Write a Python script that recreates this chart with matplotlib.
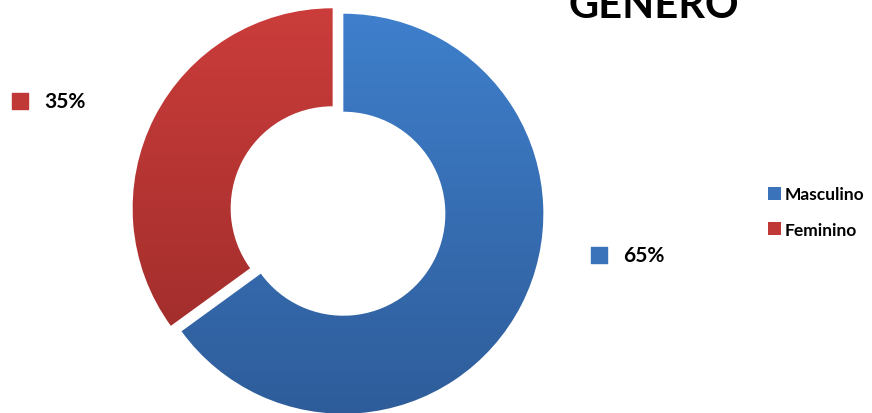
import matplotlib.pyplot as plt
import numpy as np
from matplotlib.colors import to_rgb
from matplotlib.patches import Patch

# data
categories = ["Masculino", "Feminino"]
values = [65, 35]
top_colors = ["#3f80cd", "#cb3d3b"]
bottom_colors = ["#2e5c99", "#982a28"]
solid_colors = ["#3a73b9", "#c03936"]

W, H = 872, 414
plt.rcParams["font.family"] = ["Lato", "DejaVu Sans"]

fig = plt.figure(figsize=(W / 100, H / 100), dpi=100)
ax = fig.add_axes([0, 0, 1, 1])

radius = 200
center = (338, 202)
# pie explode is in data units here (axes in pixel units)
wedges, _ = ax.pie(
    values,
    center=center,
    radius=radius,
    startangle=90,
    counterclock=False,
    explode=[6, 6],
    wedgeprops=dict(width=radius * 0.49, linewidth=0),
    frame=True,
)
ax.set_aspect("equal")
ax.axis("off")

# vertical gradient fill clipped to each wedge
for w, c0, c1 in zip(wedges, top_colors, bottom_colors):
    w.set_facecolor("none")
    a = np.array(to_rgb(c0))
    b = np.array(to_rgb(c1))
    t = np.linspace(0, 1, 256)[:, None]
    grad = (a * (1 - t) + b * t)[:, None, :]
    y0 = center[1] - radius - 10
    y1 = center[1] + radius + 10
    im = ax.imshow(grad, extent=[center[0] - radius - 10, center[0] + radius + 10, y0, y1],
                   origin="upper", aspect="auto", zorder=1)
    im.set_clip_path(w)

ax.set_xlim(0, W)
ax.set_ylim(0, H)

# percentage labels with colored squares
label_pos = [(592, H - 256), (13, H - 102)]
for (x, y), v, c in zip(label_pos, values, solid_colors):
    ax.scatter([x + 7], [y], marker="s", s=130, color=c, zorder=3)
    ax.text(x + 31, y, f"{v}%", fontsize=15, fontweight="bold", va="center", ha="left")

fig.text(654 / W, 1 - 18 / H, "GENERO", fontsize=30, fontweight="bold",
         ha="center", va="baseline")

handles = [Patch(facecolor=c, edgecolor="none") for c in solid_colors]
ax.legend(handles, categories, loc="center left", bbox_to_anchor=(752 / W, 1 - 213 / H),
          frameon=False, prop=dict(weight="bold", size=12.5),
          handlelength=0.75, handleheight=0.75, handletextpad=0.25, labelspacing=1.1)

fig.savefig("out.png", dpi=100)
